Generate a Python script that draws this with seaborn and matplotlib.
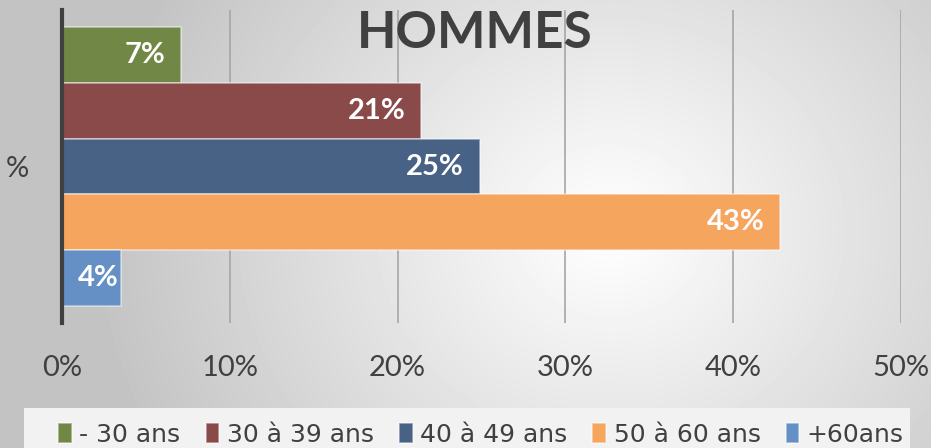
import matplotlib
matplotlib.use("Agg")
import matplotlib.pyplot as plt
import seaborn as sns
import pandas as pd
import numpy as np
from matplotlib.patches import Rectangle
from matplotlib.ticker import FuncFormatter

# === DATA ===
categories = ["%"]
groups = ["- 30 ans", "30 à 39 ans", "40 à 49 ans", "50 à 60 ans", "+60ans"]
values = [0.071, 0.214, 0.249, 0.428, 0.035]
labels = ["7%", "21%", "25%", "43%", "4%"]
colors = ["#718746", "#8a4a49", "#476285", "#f6a55f", "#6590c6"]
x_ticks = [0, 0.1, 0.2, 0.3, 0.4, 0.5]

df = pd.DataFrame({"cat": categories * len(groups), "grp": groups, "val": values})

sns.set_theme(style="white")
plt.rcParams["font.family"] = ["Lato", "DejaVu Sans"]

fig = plt.figure(figsize=(9.31, 4.48), dpi=100)

# radial grey background
bg = fig.add_axes([0, 0, 1, 1], zorder=-10)
yy, xx = np.mgrid[0:448, 0:931]
r = np.sqrt(((xx - 610) / 1.0) ** 2 + ((yy - 230) / 0.9) ** 2)
shade = np.clip(255 - r * 0.115, 196, 255) / 255.0
bg.imshow(shade, cmap="gray", vmin=0, vmax=1, aspect="auto", interpolation="bilinear")
bg.axis("off")

# legend panel (cut by bottom edge like the original)
fig.patches.append(Rectangle((24 / 931, 0), 886 / 931, 40 / 448, transform=fig.transFigure,
                             facecolor="#f2f2f2", edgecolor="none", zorder=-5))

ax = fig.add_axes([62 / 931, 1 - 323 / 448, 839 / 931, 313 / 448])
ax.set_facecolor("none")

sns.barplot(data=df, x="val", y="cat", hue="grp", orient="h", palette=colors,
            width=0.89, saturation=1, ax=ax, edgecolor=(1, 1, 1, 0.5),
            linewidth=1.2, zorder=3)

ax.set_xlim(0, 0.5)

# value labels inside bar ends (kept inside the plot for short bars)
fig.canvas.draw()
renderer = fig.canvas.get_renderer()
pad = 0.0095
for cont, lab in zip(ax.containers, labels):
    for p in cont.patches:
        t = ax.text(p.get_width() - pad, p.get_y() + p.get_height() / 2, lab,
                    ha="right", va="center", color="white", fontsize=21,
                    fontweight="bold", zorder=5)
        bb = t.get_window_extent(renderer).transformed(ax.transData.inverted())
        if bb.x0 < pad:
            t.set_x(t.get_position()[0] + (pad - bb.x0))

ax.set_xticks(x_ticks)
ax.xaxis.set_major_formatter(FuncFormatter(lambda v, _: f"{v * 100:.0f}%"))
ax.grid(axis="x", color="#a6a6a6", linewidth=1.2, zorder=0)
ax.grid(axis="y", visible=False)
ax.tick_params(axis="x", length=0, pad=23, labelsize=21, labelcolor="#404040")
ax.tick_params(axis="y", length=0, pad=24, labelsize=21, labelcolor="#404040")
ax.set_xlabel("")
ax.set_ylabel("")
for s in ["top", "right", "bottom"]:
    ax.spines[s].set_visible(False)
ax.spines["left"].set_color("#404040")
ax.spines["left"].set_linewidth(3)
ax.spines["left"].set_zorder(6)

fig.text(475 / 931, 1 - 33 / 448, "HOMMES", ha="center", va="center",
         fontsize=37, fontweight="bold", color="#404040")

handles, leg_labels = ax.get_legend_handles_labels()
ax.get_legend().remove()
leg = fig.legend(handles, leg_labels, loc="center", ncol=5,
                 bbox_to_anchor=(481 / 931, 1 - 435 / 448), frameon=False,
                 handlelength=0.55, handleheight=0.85,
                 handletextpad=0.3, columnspacing=1.0, borderpad=0,
                 borderaxespad=0,
                 prop={"family": ["Liberation Sans Narrow", "DejaVu Sans"], "size": 18})
for t in leg.get_texts():
    t.set_color("#404040")

fig.savefig("out.png", dpi=100)
